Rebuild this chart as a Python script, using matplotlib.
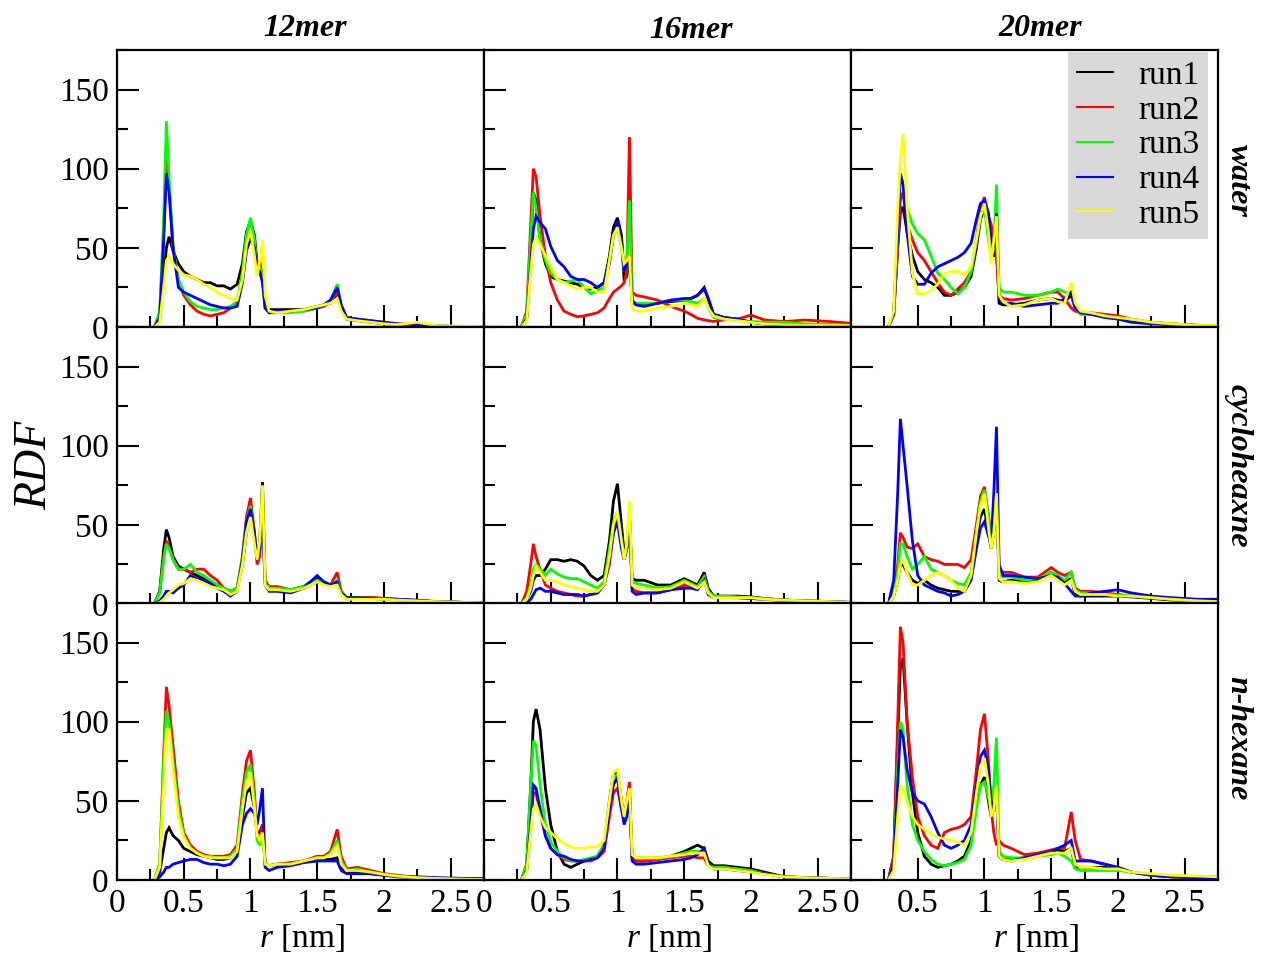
import matplotlib
matplotlib.use("Agg")
import matplotlib.pyplot as plt
from matplotlib.ticker import MultipleLocator, FuncFormatter

# ---------------------------------------------------------------- data
# radial distance grid [nm] shared by every RDF curve
r_nm = [0.28, 0.32, 0.35, 0.37, 0.39, 0.42, 0.46, 0.50, 0.55, 0.60,
        0.65, 0.70, 0.75, 0.80, 0.85, 0.90, 0.94, 0.97, 1.00, 1.03,
        1.05, 1.07, 1.09, 1.11, 1.14, 1.20, 1.30, 1.40, 1.50, 1.55,
        1.60, 1.65, 1.68, 1.72, 1.80, 1.90, 2.00, 2.10, 2.25, 2.40,
        2.60, 2.75]

runs = ["run1", "run2", "run3", "run4", "run5"]
run_colors = ["#000000", "#ff0000", "#00ff00", "#0000ff", "#ffff00"]
chain_lengths = ["12mer", "16mer", "20mer"]
solvents = ["water", "cycloheaxne", "n-hexane"]

# RDF values per run (run1..run5) for each solvent / chain length
water_12mer = [
    [0, 5, 30, 50, 57, 48, 40, 35, 32, 30, 28, 28, 26, 26, 24, 27, 40, 60, 67, 58,
     40, 38, 35, 14, 11, 11, 11, 11, 13, 14, 15, 21, 12, 5, 4, 3, 2, 1.5, 1, 0.5, 0.3, 0.2],
    [0, 8, 60, 109, 90, 50, 30, 20, 14, 10, 8, 7, 8, 9, 12, 15, 30, 50, 60, 52,
     38, 42, 30, 12, 9, 9, 10, 10, 12, 13, 16, 22, 12, 6, 5, 4, 3, 2, 1.2, 0.6, 0.3, 0.2],
    [0, 10, 70, 130, 95, 50, 30, 22, 16, 13, 12, 11, 11, 12, 13, 16, 35, 58, 69, 55,
     35, 38, 30, 12, 9, 9, 9, 10, 12, 14, 17, 27, 14, 6, 5, 3.5, 2.5, 1.5, 1, 0.5, 0.3, 0.2],
    [0, 6, 55, 97, 85, 50, 25, 22, 20, 18, 16, 14, 13, 12, 12, 13, 28, 48, 56, 50,
     36, 35, 28, 12, 9, 10, 10, 11, 12, 14, 17, 25, 14, 6, 5, 4, 3, 2, 1.5, 0.6, 0.3, 0.2],
    [0, 3, 25, 42, 45, 40, 36, 33, 32, 30, 27, 25, 22, 20, 18, 17, 30, 52, 61, 45,
     32, 42, 55, 20, 10, 9, 10, 11, 13, 14, 15, 18, 10, 5, 4, 3, 2, 1.5, 3, 0.8, 0.5, 0.3],
]
water_16mer = [
    [0, 6, 50, 85, 80, 55, 40, 32, 30, 29, 28, 27, 25, 24, 25, 28, 45, 63, 69, 58,
     30, 32, 45, 16, 14, 14, 15, 16, 17, 18, 20, 25, 18, 8, 6, 5, 3, 2, 1.5, 1.2, 1, 1],
    [0, 10, 65, 100, 95, 70, 45, 28, 17, 10, 8, 6.5, 7, 8, 9, 12, 18, 22, 24, 26,
     28, 35, 120, 22, 20, 19, 17, 13, 10, 8, 5.5, 4.5, 4, 3.5, 4.5, 5, 7.5, 4.5, 3.4, 4.4, 3.4, 2.3],
    [0, 8, 55, 85, 75, 55, 42, 34, 30, 28, 29, 30, 25, 21, 23, 25, 42, 58, 62, 50,
     35, 40, 80, 16, 15, 15, 15, 17, 17, 16, 15, 18, 12, 6, 5, 4, 3.5, 3, 3, 2, 1.5, 1.2],
    [0, 5, 40, 62, 70, 66, 62, 51, 42, 38, 32, 30, 30, 28, 25, 28, 40, 58, 67, 55,
     35, 40, 45, 17, 14, 13, 15, 17, 18, 18, 20, 24, 18, 8, 6, 5, 3, 2, 1.5, 1.2, 1, 1],
    [0, 4, 35, 52, 57, 52, 45, 38, 30, 28, 26, 24, 25, 25, 22, 22, 42, 58, 63, 50,
     40, 42, 45, 12, 10, 10, 12, 13, 15, 14, 13, 18, 12, 7, 5, 4, 3, 2, 1.5, 1.2, 1, 1],
]
water_20mer = [
    [0, 8, 50, 72, 76, 60, 45, 35, 30, 28, 25, 20, 20, 22, 25, 32, 50, 68, 75, 62,
     45, 45, 50, 15, 14, 14, 15, 17, 18, 17, 16, 20, 12, 9, 8, 7, 6, 4, 2.5, 1.5, 1, 0.8],
    [0, 8, 50, 80, 85, 65, 55, 47, 42, 35, 28, 22, 20, 24, 28, 35, 55, 75, 82, 70,
     65, 55, 45, 20, 18, 17, 18, 20, 22, 22, 18, 12, 10, 9, 9, 8, 7, 5, 3, 2, 1, 0.8],
    [0, 8, 60, 97, 90, 75, 65, 59, 55, 45, 34, 30, 25, 21, 25, 35, 55, 70, 75, 55,
     45, 50, 90, 25, 22, 22, 20, 20, 22, 24, 22, 22, 12, 8, 8, 7, 5, 4, 3, 2, 1.2, 0.8],
    [0, 8, 60, 97, 90, 60, 32, 27, 27, 34, 38, 40, 42, 44, 47, 53, 68, 78, 80, 72,
     55, 50, 72, 18, 15, 15, 13, 14, 15, 15, 18, 22, 12, 9, 8, 6, 5, 3, 2, 1.5, 1, 0.8],
    [0, 10, 75, 105, 122, 76, 34, 21, 21, 23, 27, 34, 35, 35, 33, 38, 55, 70, 78, 60,
     40, 55, 70, 20, 16, 13, 14, 17, 18, 16, 15, 28, 15, 10, 9, 7, 6, 5, 3, 2, 1, 1],
]
cyclo_12mer = [
    [0, 8, 35, 47, 42, 30, 24, 22, 20, 18, 16, 14, 12, 10, 8, 10, 25, 45, 58, 40,
     28, 40, 77, 15, 10, 10, 9, 11, 17, 14, 12, 14, 8, 4, 4, 4, 3.5, 3, 2, 1.5, 1, 0.8],
    [0, 8, 30, 40, 36, 28, 22, 22, 20, 22, 22, 18, 15, 10, 7, 10, 30, 55, 67, 45,
     25, 30, 60, 14, 11, 11, 9, 10, 14, 13, 12, 20, 8, 4, 4, 4, 3.5, 3, 2, 1.5, 1, 0.8],
    [0, 7, 28, 38, 35, 28, 22, 22, 25, 20, 18, 15, 12, 10, 8, 10, 30, 52, 62, 42,
     30, 35, 55, 13, 10, 10, 9, 11, 15, 13, 12, 15, 8, 4, 4, 3.5, 3, 2.5, 2, 1.5, 1, 0.8],
    [0, 2, 5, 8, 8, 7, 10, 12, 18, 16, 15, 13, 10, 8, 5, 8, 28, 52, 60, 45,
     28, 35, 55, 12, 8, 8, 7, 10, 18, 14, 12, 14, 7, 4, 4, 3.5, 3, 3, 2.5, 1.5, 1, 0.8],
    [0, 1, 3, 5, 7, 9, 12, 13, 16, 15, 13, 11, 10, 9, 6, 8, 25, 45, 55, 38,
     28, 40, 75, 12, 9, 9, 8, 10, 14, 12, 11, 12, 6, 3, 3, 3, 3, 2.5, 2, 1.5, 1, 0.8],
]
cyclo_16mer = [
    [0, 3, 8, 15, 18, 18, 22, 28, 28, 27, 28, 27, 24, 18, 15, 18, 40, 65, 76, 50,
     32, 35, 55, 16, 15, 15, 12, 12, 16, 14, 12, 20, 10, 5, 5, 5, 4.5, 3.5, 2.5, 2, 1.5, 1],
    [0, 8, 25, 38, 30, 22, 12, 10, 8, 7, 6, 5, 5, 6, 7, 12, 25, 45, 55, 38,
     28, 35, 58, 10, 8, 7, 7, 9, 12, 11, 10, 18, 8, 4, 4, 4, 3.5, 3, 2, 1.5, 1, 0.8],
    [0, 4, 12, 22, 25, 22, 18, 22, 19, 17, 16, 16, 14, 12, 10, 14, 35, 52, 58, 40,
     30, 35, 60, 14, 13, 12, 10, 11, 15, 13, 11, 17, 8, 5, 5, 4.5, 4, 3.5, 2.5, 2, 1.5, 1],
    [0, 1, 3, 6, 9, 10, 8, 8, 7, 6, 6, 6, 5, 6, 7, 12, 28, 45, 52, 35,
     28, 35, 55, 8, 6, 7, 7, 9, 10, 10, 9, 15, 6, 4, 4, 4, 3.5, 3, 2.5, 2, 1.5, 1],
    [0, 3, 10, 18, 24, 20, 15, 15, 14, 12, 11, 10, 9, 8, 8, 12, 30, 50, 58, 40,
     28, 38, 65, 12, 10, 10, 9, 10, 14, 12, 10, 14, 7, 4, 4, 4, 4, 3, 2.5, 2, 1.5, 1],
]
cyclo_20mer = [
    [0, 5, 15, 25, 25, 20, 15, 13, 15, 12, 10, 9, 8, 8, 8, 18, 42, 55, 60, 45,
     35, 45, 65, 15, 14, 15, 14, 15, 20, 17, 14, 16, 6, 5, 5, 5, 5, 4.5, 3.5, 2.5, 2, 1.5],
    [0, 8, 25, 45, 42, 36, 35, 38, 30, 28, 27, 25, 25, 25, 23, 28, 50, 68, 74, 55,
     45, 50, 65, 22, 20, 20, 17, 17, 23, 20, 18, 20, 10, 8, 8, 7, 6, 5, 4, 3, 2, 1.5],
    [0, 6, 20, 38, 38, 30, 22, 25, 30, 22, 20, 18, 15, 13, 12, 20, 45, 65, 72, 55,
     40, 45, 70, 20, 17, 17, 15, 16, 20, 18, 15, 20, 9, 7, 7, 6, 5.5, 5, 4, 3, 2, 1.5],
    [0, 15, 70, 117, 100, 75, 40, 18, 12, 10, 8, 7, 5, 6, 8, 15, 35, 48, 52, 43,
     38, 70, 112, 25, 18, 18, 17, 16, 18, 17, 13, 8, 5, 5, 7, 8, 9, 7, 5, 4, 3, 3],
    [0, 5, 15, 25, 28, 20, 12, 12, 15, 18, 20, 18, 15, 10, 8, 18, 45, 62, 70, 48,
     35, 45, 70, 16, 14, 14, 13, 14, 18, 15, 12, 15, 8, 6, 6, 6, 5, 5, 4, 3, 2, 1.5],
]
hexane_12mer = [
    [0, 5, 20, 30, 33, 28, 25, 20, 18, 16, 15, 14, 13, 13, 14, 18, 40, 55, 58, 45,
     30, 30, 35, 10, 9, 10, 10, 12, 14, 13, 13, 14, 8, 5, 5, 4, 3, 2, 1.5, 1, 0.6, 0.5],
    [0, 10, 80, 122, 110, 85, 50, 30, 22, 18, 16, 15, 15, 15, 16, 22, 55, 75, 82, 55,
     28, 25, 35, 10, 9, 10, 11, 12, 15, 15, 18, 32, 15, 7, 8, 6, 4, 3, 1.5, 1, 0.6, 0.5],
    [0, 10, 75, 107, 100, 75, 45, 28, 20, 17, 15, 15, 14, 14, 15, 20, 50, 68, 73, 50,
     25, 22, 30, 10, 9, 10, 10, 12, 14, 14, 17, 25, 12, 6, 7, 5, 3.5, 2.5, 1.5, 1, 0.6, 0.5],
    [0, 2, 5, 8, 8, 10, 11, 12, 13, 13, 11, 10, 10, 9, 10, 15, 35, 42, 45, 42,
     35, 45, 58, 8, 6, 8, 9, 11, 12, 12, 12, 12, 6, 4, 4, 4, 3, 2.5, 2, 1.5, 1, 1],
    [0, 8, 60, 95, 95, 70, 40, 27, 20, 17, 15, 14, 14, 14, 14, 18, 45, 62, 68, 45,
     28, 25, 30, 10, 9, 10, 10, 12, 14, 14, 16, 22, 10, 6, 6, 5, 3.5, 2.5, 1.5, 1, 0.5, 0.4],
]
hexane_16mer = [
    [0, 10, 60, 100, 108, 95, 58, 35, 18, 10, 8, 10, 12, 13, 15, 22, 50, 67, 68, 50,
     40, 48, 50, 14, 12, 12, 13, 15, 18, 20, 22, 20, 12, 9, 9, 8, 7, 5, 2, 1.5, 1, 0.8],
    [0, 6, 35, 55, 55, 42, 28, 20, 16, 13, 12, 12, 12, 12, 14, 18, 40, 55, 58, 45,
     40, 50, 62, 14, 12, 12, 13, 14, 15, 15, 14, 14, 9, 8, 8, 7, 6, 4, 2, 1.5, 1, 0.8],
    [0, 10, 60, 88, 85, 60, 35, 24, 18, 14, 12, 12, 13, 14, 15, 22, 50, 65, 66, 50,
     38, 45, 55, 16, 14, 14, 14, 15, 17, 18, 18, 17, 10, 8, 8, 7, 6, 4, 2, 1.5, 1, 0.8],
    [0, 6, 35, 60, 58, 45, 28, 20, 16, 15, 13, 12, 12, 13, 14, 20, 45, 60, 65, 45,
     35, 40, 55, 12, 10, 10, 11, 12, 13, 14, 16, 20, 10, 7, 7, 6, 5, 4, 2, 1.5, 1, 0.8],
    [0, 5, 30, 45, 48, 40, 33, 30, 26, 23, 21, 20, 20, 21, 21, 25, 50, 68, 70, 50,
     40, 50, 58, 16, 14, 14, 14, 15, 16, 17, 17, 17, 9, 7, 7, 6, 5, 3.5, 2, 1.5, 1, 0.8],
]
hexane_20mer = [
    [0, 15, 90, 135, 140, 100, 55, 30, 15, 10, 8, 9, 10, 12, 15, 25, 50, 60, 65, 50,
     40, 45, 55, 15, 13, 13, 14, 16, 18, 19, 18, 20, 8, 8, 8, 8, 7, 5, 3, 2, 1.5, 1],
    [0, 15, 100, 160, 150, 100, 65, 40, 28, 22, 20, 30, 32, 33, 35, 40, 70, 95, 105, 75,
     45, 30, 22, 25, 22, 20, 16, 17, 19, 20, 20, 43, 25, 13, 12, 10, 8, 5, 3, 2, 2, 2],
    [0, 10, 70, 100, 95, 60, 35, 25, 18, 13, 10, 9, 10, 11, 13, 22, 45, 60, 62, 52,
     45, 60, 90, 18, 15, 14, 14, 15, 16, 17, 15, 12, 7, 6, 6, 6, 6, 5, 3, 2.5, 2, 1.5],
    [0, 10, 60, 95, 90, 70, 55, 50, 48, 40, 30, 22, 20, 22, 25, 35, 60, 78, 82, 70,
     50, 45, 55, 15, 13, 12, 14, 16, 18, 20, 22, 25, 12, 12, 12, 10, 8, 5, 3, 2, 1.5, 1],
    [0, 6, 40, 60, 57, 50, 40, 35, 32, 29, 27, 26, 25, 24, 22, 30, 55, 72, 77, 60,
     40, 45, 60, 15, 13, 12, 13, 15, 17, 17, 17, 20, 10, 8, 8, 7, 7, 5, 4, 3, 2.5, 2],
]

panel_data = [
    [water_12mer, water_16mer, water_20mer],
    [cyclo_12mer, cyclo_16mer, cyclo_20mer],
    [hexane_12mer, hexane_16mer, hexane_20mer],
]

x_ticks = [0, 0.5, 1, 1.5, 2, 2.5]
y_ticks = [0, 50, 100, 150]

# ---------------------------------------------------------------- style
plt.rcParams["font.family"] = ["Liberation Serif", "DejaVu Serif"]
plt.rcParams["mathtext.fontset"] = "custom"
plt.rcParams["mathtext.rm"] = "Liberation Serif"
plt.rcParams["mathtext.it"] = "Liberation Serif:italic"

W, H = 1261, 957
fig = plt.figure(figsize=(W / 100, H / 100), dpi=100)

col_left = [117, 484, 851]
row_top = [50, 327, 603]
pw, ph = 367, 277

axes = []
for i in range(3):
    row = []
    for j in range(3):
        ax = fig.add_axes([col_left[j] / W, 1 - (row_top[i] + ph) / H, pw / W, ph / H])
        for k, vals in enumerate(panel_data[i][j]):
            ax.plot(r_nm, vals, color=run_colors[k], lw=2.0, label=runs[k],
                    solid_joinstyle="miter")
        ax.set_xlim(0, 2.75)
        ax.set_ylim(0, 175)
        ax.set_xticks(x_ticks)
        ax.set_yticks(y_ticks)
        ax.xaxis.set_minor_locator(MultipleLocator(0.25))
        ax.yaxis.set_minor_locator(MultipleLocator(25))
        ax.xaxis.set_major_formatter(FuncFormatter(lambda v, p: f"{v:g}"))
        ax.tick_params(which="both", direction="in", top=False, right=False,
                       width=1.5, labelsize=24, pad=6)
        ax.tick_params(which="major", length=16)
        ax.tick_params(which="minor", length=8)
        ax.tick_params(axis="x", labelbottom=(i == 2))
        ax.tick_params(axis="y", labelleft=(j == 0))
        for sp in ax.spines.values():
            sp.set_linewidth(1.6)
        row.append(ax)
    axes.append(row)

# legend in the upper-right panel
leg = axes[0][2].legend(loc="upper right", bbox_to_anchor=(1208 / W, 1 - 52 / H),
                        bbox_transform=fig.transFigure, frameon=True, fancybox=False,
                        facecolor="#d9d9d9", edgecolor="#d9d9d9", framealpha=1,
                        fontsize=24, handlelength=1.1, handletextpad=0.75,
                        labelspacing=0.13, borderpad=0.25, borderaxespad=0)
leg.get_frame().set_linewidth(0)
for line in leg.get_lines():
    line.set_linewidth(1.5)

# column titles
for x, name, y in zip([305, 691, 1040], chain_lengths, [28, 30, 28]):
    fig.text(x / W, 1 - y / H, name, ha="center", va="center", fontsize=23,
             fontweight="bold", fontstyle="italic")

# row labels
for y, name in zip([180, 466, 738], solvents):
    fig.text(1238 / W, 1 - y / H, name, ha="center", va="center", fontsize=23,
             fontweight="bold", fontstyle="italic", rotation=270)

# axis labels
fig.text(35 / W, 1 - 465 / H, "RDF", ha="center", va="center", fontsize=33,
         fontstyle="italic", rotation=90)
for x in [302, 669, 1036]:
    fig.text(x / W, 1 - 938 / H, r"$r$ [nm]", ha="center", va="center", fontsize=24)

fig.savefig("out.png", dpi=100)
